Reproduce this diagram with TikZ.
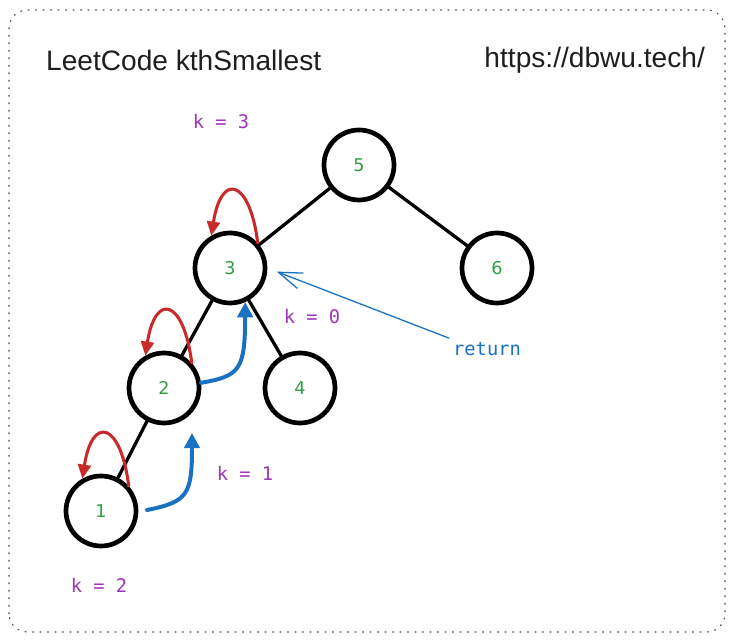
\documentclass[tikz,border=0pt]{standalone}
\usepackage{fontspec}
\usepackage{xcolor}
\usepackage{tikz}
\usetikzlibrary{arrows.meta}
\setmainfont{Liberation Sans}
\newfontfamily\monofont{DejaVu Sans Mono}
\newfontfamily\digitfont{DejaVu Sans}
\definecolor{nodegreen}{HTML}{2F9E44}
\definecolor{loopred}{HTML}{C92A2A}
\definecolor{retblue}{HTML}{1971C2}
\definecolor{kpurple}{HTML}{9C36B5}
\definecolor{inkblack}{HTML}{1E1E1E}

\begin{document}
\begin{tikzpicture}[x=0.03cm, y=0.03cm,
        treenode/.style={circle, draw=black, line width=4pt, minimum size=2.1cm, inner sep=0pt,
            text=nodegreen, font=\digitfont\fontsize{15}{15}\selectfont},
        treeedge/.style={black, line width=2.8pt, line cap=round},
        klabel/.style={text=kpurple, font=\monofont\fontsize{16}{16}\selectfont},
        redloop/.style={loopred, line width=2.6pt, line cap=round, -{Triangle[length=12pt,width=11pt]}},
        blueup/.style={retblue, line width=3.4pt, line cap=round, -{Triangle[length=13pt,width=13pt]}},
        retarrow/.style={retblue, line width=1.1pt, line cap=round, -{Straight Barb[length=20pt,width=14pt]}}]
        \useasboundingbox (0,0) rectangle (734,642);

        % Cornice
        \draw[inkblack!80, line width=1pt, dash pattern=on 0.9pt off 5.5pt, line cap=round,
            rounded corners=0.55cm] (9,10) rectangle (725,632);

        % Titolo
        \node[anchor=west, text=inkblack, font=\fontsize{24}{24}\selectfont] (title) at (42,582) {LeetCode kthSmallest};
        \node[anchor=east, text=inkblack, font=\fontsize{24}{24}\selectfont] (url) at (709,582) {https://dbwu.tech/};

        % Nodi dell'albero
        \node[treenode] (n5) at (359,477) {5};
        \node[treenode] (n3) at (230,374) {3};
        \node[treenode] (n6) at (497,374) {6};
        \node[treenode] (n2) at (164,254) {2};
        \node[treenode] (n4) at (300,254) {4};
        \node[treenode] (n1) at (101,131) {1};

        % Archi
        \foreach \a/\b in {n5/n3, n5/n6, n3/n2, n3/n4, n2/n1} {
            \draw[treeedge] (\a) -- (\b);
        }

        % Frecce rosse sopra i nodi
        \foreach \n in {n3, n2, n1} {
            \draw[redloop] (\n.42) .. controls +(-8,64) and +(10,64) .. (\n.120);
        }

        % Frecce blu di ritorno
        \draw[blueup] (n2.8) .. controls (240,266) and (245,272) .. (n3.-66);
        \coordinate (from1) at (147,132);
        \coordinate (up1) at (192,209);
        \draw[blueup] (from1) .. controls (188,140) and (192,148) .. (up1);

        % Valori di k
        \node[klabel] (k3) at (221,520) {k = 3};
        \node[klabel] (k0) at (312,325) {k = 0};
        \node[klabel] (k1) at (245,169) {k = 1};
        \node[klabel] (k2) at (99,57) {k = 2};

        % return
        \node[text=retblue, font=\monofont\fontsize{16}{16}\selectfont] (ret) at (487,293) {return};
        \draw[retarrow, shorten >=0.3cm] (ret.north west) -- (n3.east);
    \end{tikzpicture}
\end{document}
